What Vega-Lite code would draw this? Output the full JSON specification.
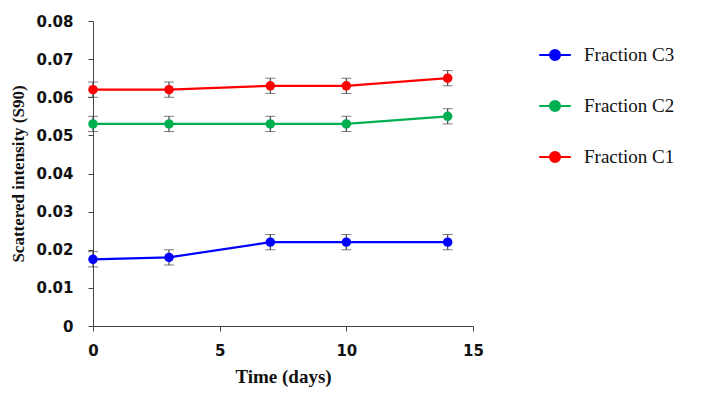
{
  "$schema": "https://vega.github.io/schema/vega-lite/v6.json",
  "autosize": "none",
  "width": 380,
  "height": 305,
  "padding": {"left": 93, "top": 21, "right": 232, "bottom": 71},
  "background": "white",
  "config": {
    "view": {"stroke": null},
    "axis": {"grid": false, "domainColor": "#444444", "tickColor": "#444444", "tickSize": 5, "labelFont": "DejaVu Sans", "labelFontWeight": "bold", "labelFontSize": 15, "labelColor": "#111111", "titleFont": "Liberation Serif", "titleFontWeight": "bold", "titleColor": "#111111"}
  },
  "data": {"values": [
    {"series": "Fraction C3", "day": 0, "value": 0.0175, "lo": 0.0155, "hi": 0.0195},
    {"series": "Fraction C3", "day": 3, "value": 0.018, "lo": 0.016, "hi": 0.020},
    {"series": "Fraction C3", "day": 7, "value": 0.022, "lo": 0.020, "hi": 0.024},
    {"series": "Fraction C3", "day": 10, "value": 0.022, "lo": 0.020, "hi": 0.024},
    {"series": "Fraction C3", "day": 14, "value": 0.022, "lo": 0.020, "hi": 0.024},
    {"series": "Fraction C2", "day": 0, "value": 0.053, "lo": 0.051, "hi": 0.055},
    {"series": "Fraction C2", "day": 3, "value": 0.053, "lo": 0.051, "hi": 0.055},
    {"series": "Fraction C2", "day": 7, "value": 0.053, "lo": 0.051, "hi": 0.055},
    {"series": "Fraction C2", "day": 10, "value": 0.053, "lo": 0.051, "hi": 0.055},
    {"series": "Fraction C2", "day": 14, "value": 0.055, "lo": 0.053, "hi": 0.057},
    {"series": "Fraction C1", "day": 0, "value": 0.062, "lo": 0.060, "hi": 0.064},
    {"series": "Fraction C1", "day": 3, "value": 0.062, "lo": 0.060, "hi": 0.064},
    {"series": "Fraction C1", "day": 7, "value": 0.063, "lo": 0.061, "hi": 0.065},
    {"series": "Fraction C1", "day": 10, "value": 0.063, "lo": 0.061, "hi": 0.065},
    {"series": "Fraction C1", "day": 14, "value": 0.065, "lo": 0.063, "hi": 0.067}
  ]},
  "encoding": {
    "x": {"field": "day", "type": "quantitative", "scale": {"domain": [0, 15], "nice": false}, "axis": {"values": [0, 5, 10, 15], "title": "Time (days)", "titleFontSize": 19, "labelFlush": false, "labelPadding": 12, "titlePadding": 9}},
    "y": {"field": "value", "type": "quantitative", "scale": {"domain": [0, 0.08], "nice": false}, "axis": {"values": [0, 0.01, 0.02, 0.03, 0.04, 0.05, 0.06, 0.07, 0.08], "format": "~g", "title": "Scattered intensity (S90)", "titleFontSize": 17, "labelPadding": 15, "titlePadding": 8}}
  },
  "layer": [
    {
      "mark": {"type": "errorbar", "ticks": {"size": 10, "color": "#444444", "strokeWidth": 1.2}, "rule": {"color": "#444444", "strokeWidth": 1.2}},
      "encoding": {"y": {"field": "lo", "type": "quantitative"}, "y2": {"field": "hi"}}
    },
    {
      "mark": {"type": "line", "strokeWidth": 2.2},
      "encoding": {
        "color": {"field": "series", "type": "nominal", "sort": ["Fraction C3", "Fraction C2", "Fraction C1"],
          "scale": {"domain": ["Fraction C3", "Fraction C2", "Fraction C1"], "range": ["#0000FF", "#00B050", "#FF0000"]},
          "legend": {"title": null, "orient": "none", "legendX": 445, "legendY": 17, "symbolType": "M-1,0L1,0M-0.32,0a0.32,0.32 0 1,0 0.64,0a0.32,0.32 0 1,0 -0.64,0", "symbolSize": 1000, "symbolStrokeWidth": 2, "labelFont": "Liberation Serif", "labelFontSize": 19, "labelColor": "#111111", "rowPadding": 24, "labelOffset": 12}
        }
      }
    },
    {
      "mark": {"type": "point", "filled": true, "size": 90, "opacity": 1},
      "encoding": {"color": {"field": "series", "type": "nominal", "legend": null}}
    }
  ]
}
